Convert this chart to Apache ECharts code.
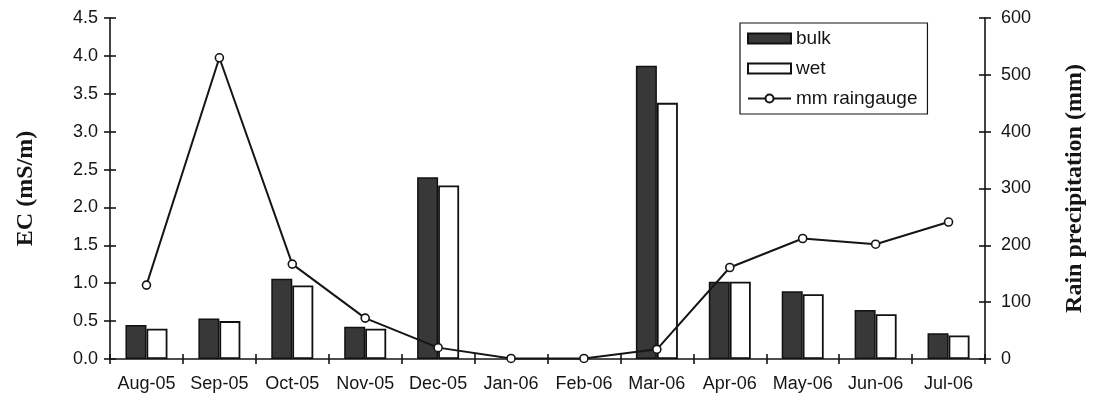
<!DOCTYPE html>
<html>
<head>
<meta charset="utf-8">
<script src="https://cdn.jsdelivr.net/npm/echarts@6/dist/echarts.min.js"></script>
<style>
  html, body { margin: 0; padding: 0; background: #ffffff; }
  #chart { width: 1097px; height: 401px; }
</style>
</head>
<body>
<div id="chart"></div>
<script>
// Monthly categories (Aug 2005 – Jul 2006)
const months = ['Aug-05', 'Sep-05', 'Oct-05', 'Nov-05', 'Dec-05', 'Jan-06',
                'Feb-06', 'Mar-06', 'Apr-06', 'May-06', 'Jun-06', 'Jul-06'];
// Electrical conductivity of bulk and wet deposition, mS/m (no samples Jan/Feb)
const bulkEC = [0.45, 0.535, 1.06, 0.425, 2.40, null, null, 3.87, 1.02, 0.895, 0.645, 0.34];
const wetEC  = [0.40, 0.50, 0.97, 0.40, 2.29, null, null, 3.38, 1.02, 0.855, 0.59, 0.31];
// Rain gauge totals, mm
const rainMm = [130, 530, 167, 72, 20, 1, 1, 17, 161, 212, 202, 241];

const ink = '#151515';
const sansFont = '"Liberation Sans", Arial, sans-serif';
const serifFont = '"Liberation Serif", "Times New Roman", serif';

const chart = echarts.init(document.getElementById('chart'), null, { renderer: 'canvas' });

// Axis with ticks on one side only; a second copy supplies the inner half of each tick
function valueAxis(pos, max, interval, withLabels, inside, extra) {
  return Object.assign({
    type: 'value',
    position: pos,
    min: 0,
    max: max,
    interval: interval,
    splitLine: { show: false },
    axisLine: { show: withLabels, lineStyle: { color: ink, width: 1.6 } },
    axisTick: { show: true, inside: inside, length: 6, lineStyle: { color: ink, width: 1.6 } },
    axisLabel: { show: withLabels }
  }, extra || {});
}

chart.setOption({
  animation: false,
  backgroundColor: '#ffffff',
  grid: { left: 110, right: 112, top: 18, bottom: 42 },
  legend: {
    orient: 'vertical',
    left: 740,
    top: 23,
    padding: [6, 10, 6, 7],
    itemWidth: 43,
    itemHeight: 10,
    itemGap: 11,
    borderColor: ink,
    borderWidth: 1.2,
    textStyle: { color: ink, fontFamily: sansFont, fontSize: 19 },
    data: [
      { name: 'bulk', icon: 'rect' },
      { name: 'wet', icon: 'rect' },
      { name: 'mm raingauge' }
    ]
  },
  xAxis: [
    {
      type: 'category',
      data: months,
      position: 'bottom',
      boundaryGap: true,
      axisLine: { lineStyle: { color: ink, width: 1.6 } },
      axisTick: { show: true, length: 5, lineStyle: { color: ink, width: 1.6 } },
      axisLabel: { interval: 0, color: ink, fontFamily: sansFont, fontSize: 18, margin: 16 }
    },
    {
      type: 'category',
      data: months,
      position: 'bottom',
      boundaryGap: true,
      axisLine: { show: false },
      axisTick: { show: true, inside: true, length: 5, lineStyle: { color: ink, width: 1.6 } },
      axisLabel: { show: false }
    }
  ],
  yAxis: [
    valueAxis('left', 4.5, 0.5, true, false, {
      name: 'EC (mS/m)',
      nameLocation: 'middle',
      nameRotate: 90,
      nameGap: 72,
      nameTextStyle: { color: ink, fontFamily: serifFont, fontWeight: 'bold', fontSize: 24 },
      axisLabel: {
        color: ink, fontFamily: sansFont, fontSize: 18, margin: 12,
        formatter: v => v.toFixed(1)
      }
    }),
    valueAxis('right', 600, 100, true, false, {
      name: 'Rain precipitation (mm)',
      nameLocation: 'middle',
      nameRotate: 90,
      nameGap: 78,
      nameTextStyle: { color: ink, fontFamily: serifFont, fontWeight: 'bold', fontSize: 24 },
      axisLabel: { color: ink, fontFamily: sansFont, fontSize: 18, margin: 16 }
    }),
    valueAxis('left', 4.5, 0.5, false, true),
    valueAxis('right', 600, 100, false, true)
  ],
  series: [
    {
      name: 'bulk',
      type: 'bar',
      xAxisIndex: 0,
      yAxisIndex: 0,
      data: bulkEC,
      barWidth: 21,
      barGap: '0%',
      itemStyle: { color: '#383838', borderColor: '#111', borderWidth: 1.5 }
    },
    {
      name: 'wet',
      type: 'bar',
      xAxisIndex: 0,
      yAxisIndex: 0,
      data: wetEC,
      barWidth: 21,
      barGap: '0%',
      itemStyle: { color: '#ffffff', borderColor: '#111', borderWidth: 1.8 }
    },
    {
      name: 'mm raingauge',
      type: 'line',
      xAxisIndex: 0,
      yAxisIndex: 1,
      data: rainMm,
      z: 5,
      symbol: 'circle',
      symbolSize: 8,
      showAllSymbol: true,
      lineStyle: { color: ink, width: 2 },
      itemStyle: { color: '#ffffff', borderColor: ink, borderWidth: 1.6 }
    }
  ]
});
</script>
</body>
</html>
